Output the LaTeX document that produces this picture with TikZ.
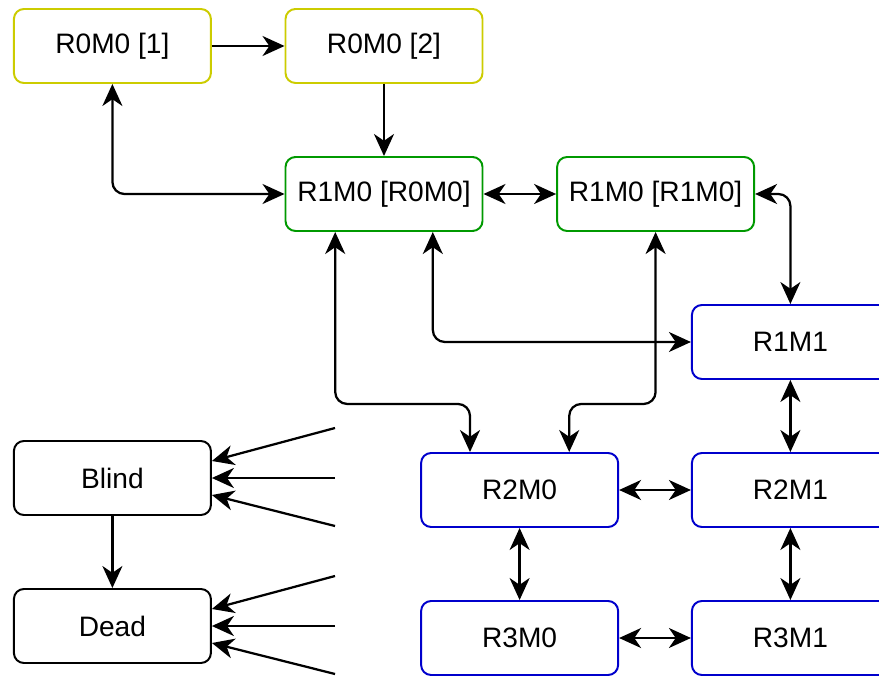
\documentclass[tikz,border=0pt]{standalone}
\usepackage{fontspec}
\setmainfont{Liberation Sans}
\usetikzlibrary{arrows.meta}

\definecolor{rzero}{RGB}{204,204,0}
\definecolor{rone}{RGB}{0,153,0}
\definecolor{rtwo}{RGB}{0,0,204}

\tikzset{
	etat/.style={draw,rounded corners=0.25cm,line width=1.4pt,minimum width=4.925cm,minimum height=1.85cm,font=\fontsize{20}{24}\selectfont},
	lien/.style={line width=1.6pt,rounded corners=0.3cm},
	fleche/.style={lien,-{Stealth[length=0.55cm,width=0.5cm,inset=0.17cm]}},
	double/.style={lien,{Stealth[length=0.55cm,width=0.5cm,inset=0.17cm]}-{Stealth[length=0.55cm,width=0.5cm,inset=0.17cm]}}
}

\begin{document}
\begin{tikzpicture}
		\clip (0,0) rectangle (21.975,-16.925);
		
		\node[etat,draw=rzero] (A) at (2.81,-1.15) {R0M0 [1]};
		\node[etat,draw=rzero] (B) at (9.6,-1.15) {R0M0 [2]};
		\node[etat,draw=rone] (C) at (9.6,-4.85) {R1M0 [R0M0]};
		\node[etat,draw=rone] (D) at (16.39,-4.85) {R1M0 [R1M0]};
		\node[etat,draw=rtwo] (E) at (19.76,-8.55) {R1M1};
		\node[etat,draw=rtwo] (F) at (12.99,-12.25) {R2M0};
		\node[etat,draw=rtwo] (G) at (19.76,-12.25) {R2M1};
		\node[etat,draw=rtwo] (H) at (12.99,-15.95) {R3M0};
		\node[etat,draw=rtwo] (I) at (19.76,-15.95) {R3M1};
		\node[etat] (blind) at (2.81,-11.95) {Blind};
		\node[etat] (dead) at (2.81,-15.65) {Dead};
		
		\draw[fleche] (A) -- (B);
		\draw[fleche] (B) -- (C);
		\draw[double] (A) |- (C);
		\draw[double] (C) -- (D);
		\draw[double] (D) -| (E);
		\draw[double] ([xshift=1.22cm]C.south) |- (E);
		\draw[double] ([xshift=-1.22cm]C.south) -- ++(0,-4.3) -| ([xshift=-1.24cm]F.north);
		\draw[double] (D.south) -- ++(0,-4.3) -| ([xshift=1.24cm]F.north);
		\draw[double] (E) -- (G);
		\draw[double] (F) -- (G);
		\draw[double] (F) -- (H);
		\draw[double] (G) -- (I);
		\draw[double] (H) -- (I);
		\draw[fleche] (blind) -- (dead);
		
		% arrows coming in from the right
		\foreach \n/\y/\dy in {1/-10.7/0.425,2/-11.95/0,3/-13.15/-0.425}{
			\coordinate (b\n) at (8.375,\y);
			\draw[fleche] (b\n) -- ([yshift=\dy cm]blind.east);
		}
		\foreach \n/\y/\dy in {1/-14.4/0.425,2/-15.65/0,3/-16.85/-0.425}{
			\coordinate (d\n) at (8.375,\y);
			\draw[fleche] (d\n) -- ([yshift=\dy cm]dead.east);
		}
	\end{tikzpicture}
\end{document}
